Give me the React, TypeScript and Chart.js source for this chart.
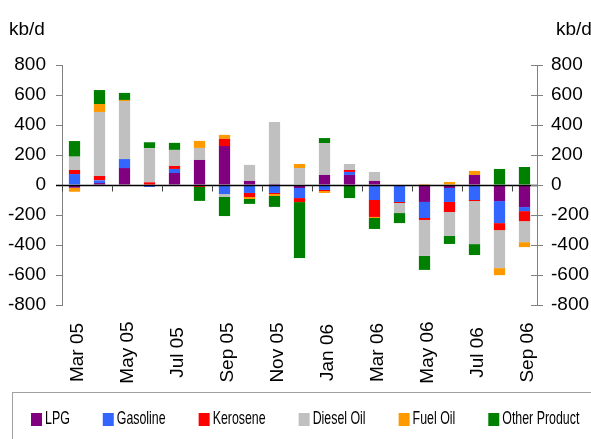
import React, { useEffect, useRef } from 'react';
import { Chart, registerables } from 'chart.js';

Chart.register(...registerables);

// ---- data ----
const months = [
  'Mar 05', 'Apr 05', 'May 05', 'Jun 05', 'Jul 05', 'Aug 05', 'Sep 05', 'Oct 05', 'Nov 05', 'Dec 05',
  'Jan 06', 'Feb 06', 'Mar 06', 'Apr 06', 'May 06', 'Jun 06', 'Jul 06', 'Aug 06', 'Sep 06',
];
const lpg = [-18, 13, 113, 3, 80, 167, 260, 27, 7, -20, 67, 67, 27, 0, -113, -20, 67, -107, -147];
const gasoline = [73, 18, 60, -13, 27, 0, -60, -53, -53, -67, -33, 20, -100, -113, -107, -93, -100, -147, -27];
const kerosene = [27, 29, 0, 15, 20, -13, 47, -27, -7, -27, -7, 13, -113, -7, -13, -67, -7, -47, -67];
const dieselOil = [89, 427, 387, 227, 107, 80, -20, 107, 413, 113, 213, 40, 60, -67, -240, -160, -287, -253, -140];
const fuelOil = [-27, 53, 7, 0, 0, 47, 27, -13, -13, 27, -13, 0, -7, 0, 7, 20, 27, -47, -33];
const otherProduct = [104, 93, 47, 40, 47, -93, -127, -33, -73, -373, 33, -87, -73, -67, -93, -53, -73, 107, 120];

const seriesNames = ['LPG', 'Gasoline', 'Kerosene', 'Diesel Oil', 'Fuel Oil', 'Other Product'];
const seriesValues = [lpg, gasoline, kerosene, dieselOil, fuelOil, otherProduct];
const seriesColors = ['#800080', '#3366FF', '#FF0000', '#C0C0C0', '#FF9900', '#008000'];

const yMin = -800;
const yMax = 800;
const yStep = 200;
const unitLabel = 'kb/d';
const xLabelEvery = 2;

const FONT = '"Liberation Sans", Arial, sans-serif';

export default function App() {
  const ref = useRef<HTMLCanvasElement>(null);

  useEffect(() => {
    const canvas = ref.current!;

    const overlay = {
      id: 'overlay',
      afterDatasetsDraw(chart: any) {
        const ctx = chart.ctx as CanvasRenderingContext2D;
        const area = chart.chartArea;
        const x = chart.scales.x;
        const y = chart.scales.y;
        const y0 = Math.round(y.getPixelForValue(0)) + 0.5;
        const catW = x.getPixelForValue(1) - x.getPixelForValue(0);
        ctx.save();
        // zero line
        ctx.strokeStyle = '#000';
        ctx.lineWidth = 1.5;
        ctx.beginPath();
        ctx.moveTo(area.left - 6, y0);
        ctx.lineTo(area.right, y0);
        ctx.stroke();
        // category tick marks on the zero line
        ctx.lineWidth = 1;
        ctx.strokeStyle = '#444';
        for (let i = 0; i < months.length; i += xLabelEvery) {
          const px = Math.round(x.getPixelForValue(i) - catW / 2) + 0.5;
          ctx.beginPath();
          ctx.moveTo(px, y0);
          ctx.lineTo(px, y0 + 6);
          ctx.stroke();
        }
        // inner ticks of the right axis
        const y2 = chart.scales.y2;
        ctx.strokeStyle = '#808080';
        y2.ticks.forEach((t: any) => {
          const py = Math.round(y2.getPixelForValue(t.value)) + 0.5;
          ctx.beginPath();
          ctx.moveTo(area.right - 6, py);
          ctx.lineTo(area.right, py);
          ctx.stroke();
        });
        ctx.restore();
      },
      afterDraw(chart: any) {
        const ctx = chart.ctx as CanvasRenderingContext2D;
        const x = chart.scales.x;
        ctx.save();
        // x labels, rotated, centered
        ctx.fillStyle = '#000';
        ctx.font = `19px ${FONT}`;
        ctx.textAlign = 'center';
        ctx.textBaseline = 'alphabetic';
        for (let i = 0; i < months.length; i += xLabelEvery) {
          const cx = x.getPixelForValue(i);
          ctx.save();
          ctx.translate(cx + 8.5, 352.5);
          ctx.rotate(-Math.PI / 2);
          ctx.fillText(months[i], 0, 0);
          ctx.restore();
        }
        // unit labels
        ctx.textAlign = 'left';
        ctx.fillText(unitLabel, 9, 35);
        ctx.fillText(unitLabel, 556, 35);

        // legend
        ctx.strokeStyle = '#A0A0A0';
        ctx.lineWidth = 1;
        ctx.strokeRect(12.5, 392.5, 640, 100);
        ctx.font = `17.7px ${FONT}`;
        const squeeze = 0.7;
        let lx = 31;
        seriesNames.forEach((name, i) => {
          ctx.fillStyle = seriesColors[i];
          ctx.fillRect(lx, 413, 11, 13);
          ctx.fillStyle = '#000';
          ctx.save();
          ctx.translate(lx + 14, 424);
          ctx.scale(squeeze, 1);
          ctx.fillText(name, 0, 0);
          ctx.restore();
          lx = lx + 14 + ctx.measureText(name).width * squeeze + 33;
        });
        ctx.restore();
      },
    };

    const chart = new Chart(canvas, {
      type: 'bar',
      data: {
        labels: months,
        datasets: seriesNames.map((name, i) => ({
          label: name,
          data: seriesValues[i],
          backgroundColor: seriesColors[i],
          borderWidth: 0,
          categoryPercentage: 1,
          barPercentage: 0.45,
        })),
      },
      options: {
        responsive: false,
        animation: false,
        devicePixelRatio: 1,
        layout: { padding: { top: 65, bottom: 134, left: 0, right: 0 } },
        plugins: {
          legend: { display: false },
          tooltip: { enabled: false },
          title: { display: false },
        },
        scales: {
          x: {
            type: 'category',
            stacked: true,
            display: false,
          },
          y: {
            type: 'linear',
            position: 'left',
            stacked: true,
            min: yMin,
            max: yMax,
            ticks: {
              stepSize: yStep,
              color: '#000',
              font: { family: FONT, size: 19 },
              padding: 10,
            },
            grid: {
              drawOnChartArea: false,
              drawTicks: true,
              tickLength: 6,
              color: '#808080',
            },
            border: { display: true, color: '#808080', width: 1 },
            afterFit(scale: any) {
              scale.width = 62;
            },
          },
          y2: {
            type: 'linear',
            position: 'right',
            min: yMin,
            max: yMax,
            ticks: {
              stepSize: yStep,
              color: '#000',
              font: { family: FONT, size: 19 },
              padding: 8,
            },
            grid: {
              drawOnChartArea: false,
              drawTicks: true,
              tickLength: 6,
              color: '#808080',
            },
            border: { display: true, color: '#808080', width: 1 },
            afterFit(scale: any) {
              scale.width = 54;
            },
          },
        },
      },
      plugins: [overlay],
    } as any);

    return () => chart.destroy();
  }, []);

  return (
    <canvas
      ref={ref}
      width={591}
      height={439}
      style={{ position: 'absolute', left: 0, top: 0, width: 591, height: 439 }}
    />
  );
}
